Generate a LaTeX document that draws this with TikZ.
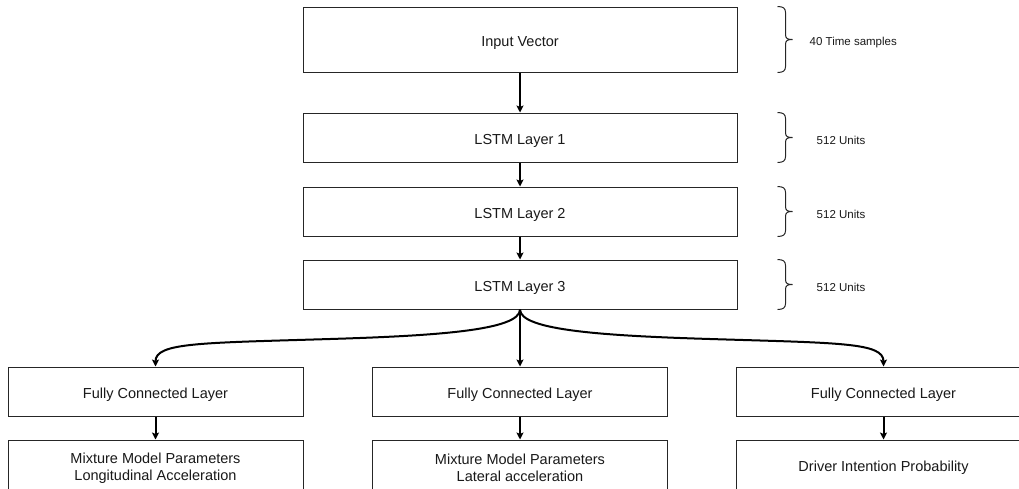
\documentclass[tikz,border=0pt]{standalone}
\usepackage{fontspec}
\setmainfont{Liberation Sans}
\usetikzlibrary{arrows.meta,calc}

% curly bracket to the right of a layer box, tip pointing right
\newcommand\sidebrace[1]{%
  \draw[bracestroke] ([xshift=40pt]#1.north east)
      .. controls +(6,0) and +(0,-4) .. ($(#1.north east)+(48,6)$)
      -- ($(#1.east)+(48,-5)$)
      .. controls +(0,4) and +(-5,0) .. ($(#1.east)+(55,0)$)
      .. controls +(-5,0) and +(0,-4) .. ($(#1.east)+(48,5)$)
      -- ($(#1.south east)+(48,-6)$)
      .. controls +(0,4) and +(6,0) .. ([xshift=40pt]#1.south east);}

\begin{document}
\begin{tikzpicture}[x=1pt,y=-1pt,
  layer/.style={draw=black!85, line width=1pt, fill=white, rectangle, inner sep=0pt,
    align=center, font=\fontsize{14.5}{16.5}\selectfont, text=black!90},
  oneline/.style={text height=15pt, text depth=1pt},
  wide/.style={layer, oneline, minimum width=434pt, minimum height=49pt},
  narrow/.style={layer, minimum width=295pt, minimum height=49pt},
  conn/.style={line width=2pt, draw=black, -{Stealth[length=7pt,width=7pt,inset=1.5pt]}},
  bracestroke/.style={line width=1pt, draw=black!85},
  sidenote/.style={anchor=base west, inner sep=0pt, font=\fontsize{11.5}{13}\selectfont, text=black!90}]

\useasboundingbox (0,0) rectangle (1019,488);

% network stack
\node[wide, minimum height=65pt] (inp) at (520,39.5)  {Input Vector};
\node[wide] (l1) at (520,137.5) {LSTM Layer 1};
\node[wide] (l2) at (520,211.5) {LSTM Layer 2};
\node[wide] (l3) at (520,284.5) {LSTM Layer 3};

% output heads
\node[narrow, oneline] (fc1) at (155.5,391.5) {Fully Connected Layer};
\node[narrow, oneline] (fc2) at (520,391.5)   {Fully Connected Layer};
\node[narrow, oneline] (fc3) at (883.5,391.5) {Fully Connected Layer};
\node[narrow, minimum height=56pt] (out1) at (155.5,468) {Mixture Model Parameters\\Longitudinal Acceleration};
\node[narrow, minimum height=56pt] (out2) at (520,468)   {Mixture Model Parameters\\Lateral acceleration};
\node[narrow, minimum height=56pt] (out3) at (883.5,468) {Driver Intention Probability};

% size annotations
\sidebrace{inp}
\sidebrace{l1}
\sidebrace{l2}
\sidebrace{l3}
\node[sidenote] (n0) at ($(inp.east)+(72,6)$) {40 Time samples};
\node[sidenote] (n1) at ($(l1.east)+(79,6.5)$) {512 Units};
\node[sidenote] (n2) at ($(l2.east)+(79,6.5)$) {512 Units};
\node[sidenote] (n3) at ($(l3.east)+(79,6.5)$) {512 Units};

% connectors
\draw[conn] (inp) -- (l1);
\draw[conn] (l1) -- (l2);
\draw[conn] (l2) -- (l3);

\coordinate (mL) at (330,339);
\coordinate (mR) at (710,339);
\draw[conn] (l3.south) .. controls +(0,21) and +(104,-3.2) .. (mL)
                       .. controls +(-130,4) and +(0,-24) .. (fc1.north);
\draw[conn] (l3.south) -- (fc2.north);
\draw[conn] (l3.south) .. controls +(0,21) and +(-104,-3.2) .. (mR)
                       .. controls +(130,4) and +(0,-24) .. (fc3.north);

\draw[conn] (fc1) -- (out1);
\draw[conn] (fc2) -- (out2);
\draw[conn] (fc3) -- (out3);
\end{tikzpicture}
\end{document}
